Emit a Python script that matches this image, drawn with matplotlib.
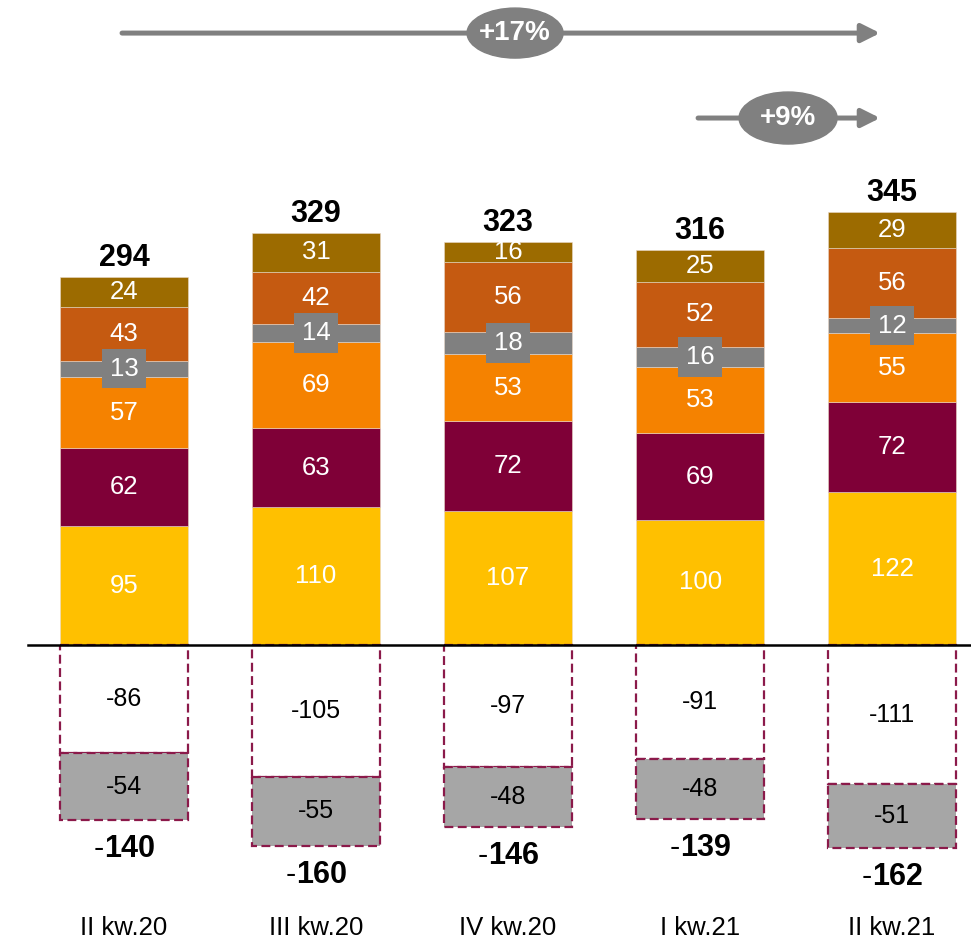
import numpy as np
import matplotlib.pyplot as plt
from matplotlib.patches import Ellipse
from matplotlib.transforms import offset_copy

plt.rcParams['font.family'] = ['Liberation Sans', 'DejaVu Sans']

quarters = ["II kw.20", "III kw.20", "IV kw.20", "I kw.21", "II kw.21"]

# positive stack, bottom to top
seg_yellow = [95, 110, 107, 100, 122]
seg_maroon = [62, 63, 72, 69, 72]
seg_orange = [57, 69, 53, 53, 55]
seg_gray = [13, 14, 18, 16, 12]
seg_dkorange = [43, 42, 56, 52, 56]
seg_olive = [24, 31, 16, 25, 29]
totals_pos = [294, 329, 323, 316, 345]

# negative stack, top to bottom
neg_white = [-86, -105, -97, -91, -111]
neg_gray = [-54, -55, -48, -48, -51]
totals_neg = [-140, -160, -146, -139, -162]

growth_all = "+17%"
growth_last = "+9%"

pos_series = [
    (seg_yellow, "#FFC000"),
    (seg_maroon, "#7F0037"),
    (seg_orange, "#F58200"),
    (seg_gray, "#808080"),
    (seg_dkorange, "#C55A11"),
    (seg_olive, "#9C6B00"),
]

fig = plt.figure(figsize=(9.71, 9.41), dpi=100)
ax = fig.add_axes([0, 0, 1, 1])
ax.set_xlim(-0.646, 4.411)
ax.set_ylim(-236.2, 514.8)
ax.axis("off")

x = np.arange(len(quarters))
w = 0.667
px = 1.253  # pixels per unit, for offsets

bottom = np.zeros(len(x))
for vals, col in pos_series:
    vals = np.array(vals, dtype=float)
    ax.bar(x, vals, w, bottom=bottom, color=col, edgecolor="#E8D8C8",
           linewidth=0.4, zorder=2)
    for xi, b, v in zip(x, bottom, vals):
        box = None
        if col == "#808080":
            box = dict(boxstyle="square,pad=0.3", fc="#808080", ec="none")
        ax.text(xi, b + v / 2, f"{int(v)}", ha="center", va="center",
                color="white", fontsize=18.5, zorder=4, bbox=box)
    bottom += vals

for xi, b, t in zip(x, bottom, totals_pos):
    ax.text(xi, b + 19 / px, f"{t}", ha="center", va="center",
            fontsize=22, fontweight="bold", zorder=4)

# negative bars with dashed outline
edge = "#8B1A4A"
nw = np.array(neg_white, dtype=float)
ng = np.array(neg_gray, dtype=float)
ax.bar(x, nw, w, bottom=0, color="white", edgecolor=edge, linewidth=1.6,
       linestyle=(0, (4, 2)), zorder=2)
ax.bar(x, ng, w, bottom=nw, color="#A6A6A6", edgecolor=edge, linewidth=1.6,
       linestyle=(0, (4, 2)), zorder=2)
for xi, a, g in zip(x, nw, ng):
    ax.text(xi, a / 2, f"{int(a)}", ha="center", va="center", fontsize=18, zorder=4)
    ax.text(xi, a + g / 2, f"{int(g)}", ha="center", va="center", fontsize=18, zorder=4)

# negative totals: regular minus sign, bold digits, centred as a group
fig.canvas.draw()
rend = fig.canvas.get_renderer()
for xi, a, g, t in zip(x, nw, ng, totals_neg):
    yt = a + g - 29 / px
    dash = ax.text(xi, yt, "-", ha="right", va="center", fontsize=22, zorder=4)
    digits = ax.text(xi, yt, f"{abs(t)}", ha="left", va="center",
                     fontsize=22, fontweight="bold", zorder=4)
    dw = dash.get_window_extent(rend).width
    nwid = digits.get_window_extent(rend).width
    shift = (dw - nwid) / 2  # pixels
    dash.set_transform(offset_copy(ax.transData, fig=fig, x=shift * 72 / fig.dpi,
                                   units="points"))
    digits.set_transform(offset_copy(ax.transData, fig=fig, x=shift * 72 / fig.dpi,
                                     units="points"))

# zero line
ax.axhline(0, xmin=28 / 971, xmax=1, color="black", linewidth=1.8, zorder=3)

# category labels
for xi, q in zip(x, quarters):
    ax.text(xi, -226, q, ha="center", va="center", fontsize=18.5)


# growth arrows
def growth_arrow(x0, x1, y, label, xlab, ew, eh):
    ax.annotate("", xy=(x1, y), xytext=(x0, y),
                arrowprops=dict(arrowstyle="-|>,head_length=1.1,head_width=0.55",
                                color="#808080", lw=3.6, shrinkA=0, shrinkB=0),
                zorder=3)
    ax.add_patch(Ellipse((xlab, y), ew / 192, eh / px, color="#808080", zorder=4))
    ax.text(xlab, y, label, ha="center", va="center", color="white",
            fontsize=20, fontweight="bold", zorder=5)


growth_arrow(x[0] - 2 / 192, x[4] - 12 / 192, 488.4, growth_all,
             (515 - 124) / 192, 96, 50)
growth_arrow(x[3] - 2 / 192, x[4] - 12 / 192, 420.6, growth_last,
             (788 - 124) / 192, 98, 52)

fig.savefig("out.png", dpi=100)
